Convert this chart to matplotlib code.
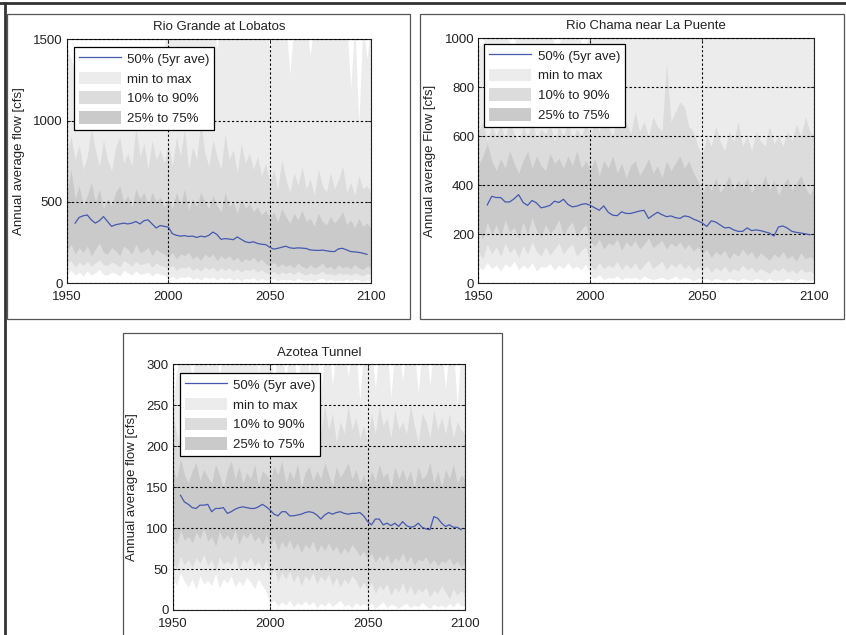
import numpy as np
import matplotlib
matplotlib.use('Agg')
import matplotlib.pyplot as plt
from matplotlib.patches import Rectangle
from matplotlib.lines import Line2D

plt.rcParams['font.family'] = ['Liberation Sans', 'DejaVu Sans']

# annual band values, read every 2 years 1950..2100
years = np.arange(1950, 2101, 2)
med_years = np.arange(1954, 2099, 2)

# ---- Rio Grande at Lobatos
lob_max = [1450, 1380, 1300, 1420, 1350, 1400, 1280, 1430, 1330, 1250,
           1380, 1300, 1420, 1440, 1350, 1400, 1320, 1450, 1380, 1300,
           1420, 1350, 1440, 1380, 1460, 1600, 1600, 1600, 1600, 1600,
           1600, 1600, 1600, 1600, 1600, 1600, 1600, 1440, 1600, 1600,
           1600, 1600, 1600, 1600, 1600, 1600, 1600, 1600, 1600, 1600,
           1430, 1600, 1600, 1600, 1600, 1290, 1600, 1600, 1600, 1600,
           1400, 1600, 1600, 1600, 1600, 1600, 1600, 1600, 1600, 1600,
           1200, 1600, 980, 1600, 1380, 1600]
lob_p90 = [820, 900, 760, 850, 700, 780, 950, 820, 720, 880,
           760, 690, 840, 900, 740, 800, 720, 960, 780, 860,
           700, 880, 760, 820, 740, 860, 720, 900, 780, 950,
           700, 840, 760, 1000, 800, 720, 880, 780, 700, 920,
           760, 820, 680, 860, 740, 800, 700, 780, 660, 740,
           620, 700, 580, 760, 640, 560, 680, 600, 720, 580,
           640, 540, 700, 600, 560, 680, 580, 640, 720, 560,
           620, 540, 660, 580, 600, 560]
lob_p75 = [560, 700, 520, 600, 480, 540, 620, 500, 580, 460,
           520, 480, 560, 600, 500, 540, 470, 580, 520, 560,
           480, 560, 500, 530, 470, 520, 460, 560, 480, 580,
           450, 520, 470, 560, 500, 460, 540, 480, 440, 560,
           470, 500, 430, 520, 460, 490, 440, 470, 420, 450,
           400, 440, 380, 460, 410, 370, 430, 390, 450, 380,
           400, 350, 430, 380, 360, 410, 370, 400, 440, 360,
           390, 340, 400, 350, 370, 340]
lob_p25 = [200, 240, 180, 220, 190, 230, 170, 210, 250, 190,
           180, 220, 200, 170, 230, 210, 180, 240, 190, 200,
           220, 170, 210, 190, 180, 160, 190, 150, 180, 170,
           190, 150, 170, 140, 180, 160, 180, 140, 170, 150,
           170, 140, 160, 130, 150, 140, 160, 130, 150, 120,
           110, 130, 100, 120, 105, 115, 95, 125, 105, 90,
           115, 95, 105, 125, 95, 105, 85, 115, 95, 105,
           90, 115, 95, 85, 105, 95]
lob_p10 = [120, 140, 100, 130, 110, 135, 105, 125, 145, 115,
           110, 130, 120, 100, 140, 125, 105, 135, 115, 120,
           130, 100, 125, 110, 105, 90, 110, 80, 100, 95,
           105, 80, 95, 75, 100, 85, 100, 75, 95, 80,
           95, 75, 90, 70, 85, 80, 90, 70, 85, 65,
           60, 75, 55, 70, 60, 70, 55, 75, 60, 50,
           65, 55, 60, 75, 55, 60, 50, 65, 55, 60,
           50, 65, 55, 45, 60, 55]
lob_min = [60, 80, 50, 70, 45, 75, 50, 65, 85, 55,
           50, 70, 60, 45, 80, 65, 50, 75, 55, 60,
           70, 45, 65, 55, 50, 30, 45, 25, 40, 35,
           45, 25, 35, 20, 40, 30, 40, 20, 35, 25,
           35, 20, 30, 15, 30, 25, 35, 15, 30, 20,
           20, 30, 15, 25, 20, 25, 15, 30, 20, 15,
           20, 15, 25, 30, 15, 25, 15, 20, 15, 25,
           15, 25, 20, 10, 20, 15]
lob_med = [370, 405, 415, 420, 390, 370, 385, 410, 380, 350,
           360, 365, 370, 365, 370, 380, 365, 385, 390, 365,
           340, 355, 350, 345, 305, 295, 290, 293, 288, 290,
           282, 290, 285, 295, 315, 300, 270, 275, 272, 268,
           285, 270, 255, 250, 255, 245, 240, 238, 222, 210,
           215, 222, 228, 218, 215, 218, 216, 214, 205, 203,
           202, 204, 200, 196, 195, 212, 215, 205, 195, 193,
           190, 185, 178]

# ---- Rio Chama near La Puente
cha_max = [970, 975, 1050, 1050, 1050, 1050, 1050, 980, 970, 1050,
           1050, 1050, 1050, 1050, 1050, 1050, 1050, 975, 970, 1050,
           1050, 1050, 1050, 975, 970, 1050, 1050, 1050, 1050, 1050,
           1050, 1050, 1050, 1050, 1050, 1050, 1050, 1050, 1050, 1050,
           1050, 1050, 1050, 1050, 1050, 1050, 1050, 1050, 1050, 1050,
           1050, 1050, 1050, 1050, 1050, 1050, 1050, 1050, 1050, 1050,
           1050, 1050, 1050, 1050, 1050, 1050, 1050, 1050, 1050, 1050,
           1050, 1050, 1050, 1050, 1050, 1050]
cha_p90 = [620, 660, 580, 640, 600, 650, 590, 670, 610, 580,
           640, 600, 660, 590, 630, 610, 650, 580, 640, 600,
           660, 590, 630, 600, 650, 600, 660, 620, 690, 640,
           600, 680, 630, 660, 610, 700, 620, 660, 600, 680,
           640, 620, 900, 660, 700, 740, 720, 640, 620, 560,
           520, 600, 560, 640, 580, 540, 620, 580, 660, 560,
           600, 540, 620, 580, 560, 640, 570, 600, 560, 620,
           580, 650, 600, 680, 620, 600]
cha_p75 = [480, 520, 570, 500, 460, 510, 470, 540, 490, 450,
           500, 540, 470, 520, 480, 460, 530, 490, 510, 470,
           520, 480, 540, 470, 500, 460, 510, 440, 500, 470,
           520, 450, 490, 430, 480, 500, 440, 470, 510, 450,
           480, 430, 500, 460, 490, 520, 470, 500, 450, 420,
           360, 410, 380, 430, 370, 400, 440, 380, 420, 390,
           430, 370, 410, 390, 440, 380, 420, 360, 400, 430,
           380, 410, 440, 390, 360, 400]
cha_p25 = [220, 180, 250, 200, 240, 190, 260, 210, 230, 185,
           250, 200, 270, 215, 190, 240, 205, 225, 260, 195,
           230, 250, 190, 220, 240, 170, 150, 180, 140, 165,
           155, 180, 135, 170, 150, 175, 140, 160, 185, 145,
           160, 175, 140, 165, 150, 170, 140, 160, 130, 150,
           120, 140, 105, 130, 115, 135, 100, 125, 110, 140,
           115, 130, 100, 125, 110, 95, 120, 105, 130, 100,
           115, 90, 125, 100, 110, 95]
cha_p10 = [130, 100, 160, 120, 150, 110, 165, 125, 145, 105,
           155, 120, 170, 130, 110, 150, 115, 140, 165, 120,
           145, 160, 110, 135, 150, 70, 55, 85, 60, 75,
           65, 90, 55, 80, 60, 85, 55, 75, 95, 60,
           75, 90, 55, 80, 65, 85, 60, 75, 50, 70,
           55, 70, 45, 65, 50, 70, 45, 60, 50, 75,
           55, 65, 45, 60, 50, 40, 60, 50, 65, 45,
           55, 40, 60, 45, 50, 40]
cha_min = [70, 55, 85, 60, 75, 50, 80, 65, 90, 55,
           75, 60, 85, 50, 70, 65, 80, 55, 75, 60,
           85, 60, 70, 55, 80, 30, 20, 35, 15, 25,
           20, 30, 15, 25, 20, 25, 15, 30, 20, 15,
           20, 25, 15, 20, 30, 15, 25, 20, 10, 20,
           15, 20, 10, 20, 15, 10, 20, 15, 10, 20,
           15, 10, 20, 15, 10, 20, 10, 15, 10, 20,
           15, 10, 20, 15, 10, 15]
cha_med = [320, 355, 350, 350, 332, 332, 345, 362, 330, 318,
           338, 328, 308, 312, 318, 335, 330, 343, 322, 312,
           315, 322, 325, 318, 308, 298, 316, 290, 278, 276,
           292, 285, 285, 290, 295, 298, 265, 278, 290, 280,
           272, 275, 268, 265, 275, 272, 262, 255, 246, 232,
           255, 250, 238, 226, 228, 218, 212, 212, 226, 215,
           218, 215, 210, 205, 193, 230, 234, 225, 212, 208,
           205, 202, 198]

# ---- Azotea Tunnel
azo_max = [245, 290, 320, 320, 320, 280, 320, 320, 320, 295,
           320, 320, 285, 320, 320, 320, 300, 320, 320, 320,
           320, 320, 290, 320, 320, 320, 270, 320, 320, 280,
           320, 320, 265, 320, 320, 290, 320, 320, 260, 320,
           320, 275, 320, 320, 320, 285, 320, 320, 255, 320,
           320, 320, 270, 320, 320, 320, 260, 320, 320, 280,
           320, 320, 320, 265, 320, 320, 275, 320, 320, 320,
           270, 320, 320, 250, 320, 320]
azo_p90 = [240, 215, 200, 225, 195, 210, 230, 190, 220, 205,
           195, 225, 210, 185, 215, 220, 200, 230, 195, 210,
           205, 235, 190, 215, 200, 230, 210, 270, 220, 240,
           215, 250, 205, 230, 220, 245, 210, 235, 215, 250,
           220, 240, 205, 230, 215, 250, 220, 235, 210, 225,
           205, 240, 215, 250, 225, 235, 210, 245, 220, 230,
           215, 250, 225, 205, 240, 230, 210, 245, 220, 235,
           215, 240, 210, 230, 220, 215]
azo_p75 = [175, 160, 185, 165, 155, 170, 180, 158, 172, 162,
           155, 178, 165, 150, 170, 182, 160, 175, 155, 168,
           160, 178, 152, 170, 165, 158, 175, 165, 182, 155,
           170, 160, 178, 150, 168, 175, 158, 170, 160, 180,
           165, 152, 175, 162, 170, 180, 160, 172, 155, 165,
           150, 170, 158, 178, 162, 168, 150, 175, 160, 172,
           158, 170, 150, 175, 160, 165, 180, 155, 170, 150,
           172, 160, 178, 155, 165, 160]
azo_p25 = [92, 80, 98, 85, 90, 82, 95, 87, 100, 84,
           90, 78, 96, 86, 92, 85, 98, 80, 93, 88,
           95, 84, 90, 80, 92, 78, 88, 72, 84, 76,
           86, 74, 82, 70, 80, 75, 85, 70, 80, 73,
           82, 72, 78, 68, 76, 70, 80, 74, 66, 72,
           62, 70, 58, 66, 60, 68, 56, 64, 60, 70,
           58, 66, 55, 62, 60, 65, 56, 62, 54, 60,
           58, 64, 55, 60, 52, 58]
azo_p10 = [60, 50, 66, 55, 62, 52, 64, 57, 68, 54,
           62, 48, 65, 56, 60, 55, 67, 50, 62, 58,
           64, 54, 60, 50, 62, 40, 50, 35, 46, 38,
           48, 34, 44, 30, 42, 36, 46, 32, 42, 35,
           44, 30, 40, 28, 38, 32, 42, 36, 26, 34,
           24, 34, 20, 30, 25, 32, 18, 28, 22, 34,
           20, 30, 18, 26, 22, 28, 16, 24, 20, 30,
           22, 14, 26, 18, 24, 18]
azo_min = [40, 30, 45, 35, 28, 38, 25, 42, 32, 36,
           30, 44, 27, 38, 33, 42, 28, 36, 30, 40,
           34, 26, 38, 30, 22, 8, 12, 5, 10, 6,
           12, 4, 9, 6, 11, 6, 10, 3, 8, 5,
           10, 4, 8, 12, 5, 7, 3, 9, 5, 8,
           4, 8, 2, 6, 10, 3, 7, 5, 2, 6,
           8, 3, 6, 4, 9, 5, 2, 7, 4, 6,
           3, 8, 4, 10, 5, 6]
azo_med = [140, 132, 129, 125, 124, 128, 128, 129, 120, 124,
           124, 125, 118, 120, 123, 125, 126, 125, 124, 124,
           126, 129, 126, 122, 117, 115, 120, 120, 115, 115,
           116, 117, 119, 120, 119, 116, 111, 116, 119, 117,
           119, 120, 118, 117, 118, 118, 119, 115, 108, 104,
           111, 111, 104, 106, 103, 106, 102, 108, 103, 101,
           102, 106, 101, 99, 98, 114, 112, 106, 102, 104,
           101, 101, 98]

titles = ['Rio Grande at Lobatos', 'Rio Chama near La Puente', 'Azotea Tunnel']
ylabels = ['Annual average flow [cfs]', 'Annual average Flow [cfs]', 'Annual average flow [cfs]']
xticks = [1950, 2000, 2050, 2100]
yticks = [[0, 500, 1000, 1500], [0, 200, 400, 600, 800, 1000], [0, 50, 100, 150, 200, 250, 300]]

c_minmax = '#ececec'
c_1090 = '#dcdcdc'
c_2575 = '#cacaca'
c_med = '#4459b0'
txt = '#222222'

W, H = 846, 635
fig = plt.figure(figsize=(W / 100, H / 100), dpi=100)


def frac(x0, y0, x1, y1):
    # pixel box (top-left origin) -> figure fraction [l, b, w, h]
    return [x0 / W, 1 - y1 / H, (x1 - x0) / W, (y1 - y0) / H]


# panel frames
for box in [(7, 14, 410, 319), (420, 14, 844, 319), (123, 333, 502, 645)]:
    l, b, w, h = frac(*box)
    fig.add_artist(Rectangle((l, b), w, h, transform=fig.transFigure, fill=False,
                             edgecolor='#555555', linewidth=0.9))
fig.add_artist(Line2D([0, 1], [1 - 3 / H, 1 - 3 / H], transform=fig.transFigure,
                      color='#333333', linewidth=2))
fig.add_artist(Line2D([4.5 / W, 4.5 / W], [0, 1 - 3 / H], transform=fig.transFigure,
                      color='#333333', linewidth=2))

ax1 = fig.add_axes(frac(67, 39.3, 371, 283.3))
ax2 = fig.add_axes(frac(478.3, 38.3, 814.3, 283.3))
ax3 = fig.add_axes(frac(172.7, 364.3, 465, 610))

data = [
    (lob_min, lob_p10, lob_p25, lob_p75, lob_p90, lob_max, lob_med),
    (cha_min, cha_p10, cha_p25, cha_p75, cha_p90, cha_max, cha_med),
    (azo_min, azo_p10, azo_p25, azo_p75, azo_p90, azo_max, azo_med),
]
legend_anchor = [(0.023, 0.967), (0.018, 0.976), (0.025, 0.963)]
title_pad = [7, 7, 6]

for i, ax in enumerate([ax1, ax2, ax3]):
    vmin, v10, v25, v75, v90, vmax, vmed = data[i]
    f1 = ax.fill_between(years, vmin, vmax, color=c_minmax, linewidth=0)
    f2 = ax.fill_between(years, v10, v90, color=c_1090, linewidth=0)
    f3 = ax.fill_between(years, v25, v75, color=c_2575, linewidth=0)
    ln, = ax.plot(med_years, vmed, color=c_med, linewidth=0.9, zorder=3)
    ax.set_xlim(1950, 2100)
    ax.set_ylim(yticks[i][0], yticks[i][-1])
    ax.set_xticks(xticks)
    ax.set_yticks(yticks[i])
    ax.set_axisbelow(False)
    ax.grid(True, color='black', linestyle=(0, (2, 2)), linewidth=0.8)
    ax.tick_params(direction='in', length=3, width=0.6, top=True, right=True,
                   labelsize=9.5, colors=txt, pad=3)
    ax.tick_params(axis='x', pad=5.5)
    for s in ax.spines.values():
        s.set_color('#222222')
        s.set_linewidth(0.8)
    ax.set_title(titles[i], fontsize=9.5, color=txt, pad=title_pad[i])
    ax.set_ylabel(ylabels[i], fontsize=9.5, color=txt, labelpad=6)
    leg = ax.legend([ln, f1, f2, f3], ['50% (5yr ave)', 'min to max', '10% to 90%', '25% to 75%'],
                    loc='upper left', bbox_to_anchor=legend_anchor[i], borderaxespad=0,
                    fontsize=9.5, fancybox=False, framealpha=1, edgecolor='black',
                    handlelength=3.2, handleheight=1.1, handletextpad=0.5,
                    labelspacing=0.45, borderpad=0.35)
    leg.get_frame().set_linewidth(0.9)
    for t in leg.get_texts():
        t.set_color(txt)

fig.savefig('out.png', dpi=100)
